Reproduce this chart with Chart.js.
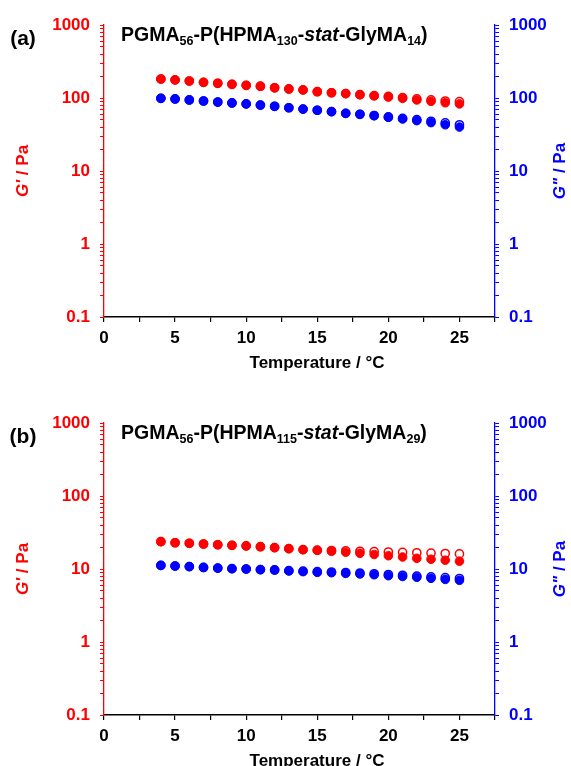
<!DOCTYPE html>
<html>
<head>
<meta charset="utf-8">
<script src="https://cdn.jsdelivr.net/npm/chart.js@4.4.0/dist/chart.umd.min.js"></script>
<style>
    body { margin: 0; background: #fff; width: 571px; height: 766px; overflow: hidden; position: relative; font-family: "Liberation Sans", Arial, sans-serif; }
    canvas { position: absolute; left: 0; }
    .txt { position: absolute; font-weight: bold; white-space: nowrap; transform: translate(-50%, -50%); line-height: 1; }
    .rot { transform: translate(-50%, -50%) rotate(-90deg); }
    .formula { position: absolute; font-weight: bold; font-size: 19.5px; white-space: nowrap; transform: translateY(-50%); line-height: 1; color: #000; }
    .formula sub { font-size: 12.5px; vertical-align: -4px; line-height: 0; }
</style>
</head>
<body>
<canvas id="chartA" width="571" height="383" style="top:0"></canvas>
<canvas id="chartB" width="571" height="383" style="top:383px"></canvas>

<div class="txt" style="left:23px; top:37px; font-size:21px;">(a)</div>
<div class="formula" style="left:121px; top:35px;">PGMA<sub>56</sub>-P(HPMA<sub>130</sub>-<i>stat</i>-GlyMA<sub>14</sub>)</div>
<div class="txt rot" style="left:22px; top:171px; font-size:17px; color:#ff0000;"><i>G'</i> / Pa</div>
<div class="txt rot" style="left:559px; top:171px; font-size:17px; color:#0000ff;"><i>G"</i> / Pa</div>
<div class="txt" style="left:317px; top:362px; font-size:17px;">Temperature / °C</div>

<div class="txt" style="left:23px; top:435px; font-size:21px;">(b)</div>
<div class="formula" style="left:121px; top:433px;">PGMA<sub>56</sub>-P(HPMA<sub>115</sub>-<i>stat</i>-GlyMA<sub>29</sub>)</div>
<div class="txt rot" style="left:22px; top:569px; font-size:17px; color:#ff0000;"><i>G'</i> / Pa</div>
<div class="txt rot" style="left:559px; top:569px; font-size:17px; color:#0000ff;"><i>G"</i> / Pa</div>
<div class="txt" style="left:317px; top:760px; font-size:17px;">Temperature / °C</div>

<script>
// temperature steps, °C
var temperature = [4, 5, 6, 7, 8, 9, 10, 11, 12, 13, 14, 15, 16, 17, 18, 19, 20, 21, 22, 23, 24, 25];

// panel (a) PGMA56-P(HPMA130-stat-GlyMA14)
var gPrimeA = [182, 177, 171, 164, 159, 154, 149, 145, 138, 133, 129, 122, 118, 115, 111, 107, 103, 99, 94, 90, 86, 83];
var gPrimeOpenA = [182, 177, 171, 164, 159, 154, 149, 145, 138, 133, 129, 122, 118, 115, 111, 108, 105, 101, 97, 94, 91, 89];
var gDoubleA = [99, 97, 94, 91, 88, 85.5, 83, 80, 77, 73.5, 70.5, 68, 65, 61.7, 59.8, 57.3, 54.5, 51.6, 49, 46, 43, 40];
var gDoubleOpenA = [99, 97, 94, 91, 88, 85.5, 83, 80, 77, 73.5, 70.5, 68, 65, 61.7, 59.8, 57.5, 55, 52.5, 50.5, 48, 45.5, 43];

// panel (b) PGMA56-P(HPMA115-stat-GlyMA29)
var gPrimeB = [23.7, 22.9, 22.5, 22.0, 21.5, 21.1, 20.7, 20.2, 19.6, 19.0, 18.4, 18.0, 17.5, 17.0, 16.4, 15.8, 15.2, 14.6, 14.0, 13.6, 13.2, 12.8];
var gPrimeOpenB = [23.7, 22.9, 22.5, 22.0, 21.5, 21.1, 20.7, 20.2, 19.6, 19.0, 18.4, 18.1, 17.9, 17.7, 17.5, 17.3, 17.1, 16.9, 16.7, 16.5, 16.3, 16.1];
var gDoubleB = [11.2, 11.0, 10.8, 10.5, 10.3, 10.1, 10.0, 9.8, 9.7, 9.4, 9.2, 9.0, 8.9, 8.7, 8.55, 8.35, 8.1, 7.9, 7.7, 7.45, 7.2, 7.0];
var gDoubleOpenB = [11.2, 11.0, 10.8, 10.5, 10.3, 10.1, 10.0, 9.8, 9.7, 9.5, 9.35, 9.2, 9.1, 8.95, 8.8, 8.6, 8.4, 8.2, 8.0, 7.8, 7.6, 7.4];

// ticks
var xTickValues = [0, 2.5, 5, 7.5, 10, 12.5, 15, 17.5, 20, 22.5, 25, 27.5];
var xTickLabels = [0, 5, 10, 15, 20, 25];
var yTickValues = [0.1, 0.2, 0.3, 0.4, 0.5, 0.6, 0.7, 0.8, 0.9,
    1, 2, 3, 4, 5, 6, 7, 8, 9,
    10, 20, 30, 40, 50, 60, 70, 80, 90,
    100, 200, 300, 400, 500, 600, 700, 800, 900, 1000];
var yTickLabels = [0.1, 1, 10, 100, 1000];

var RED = '#ff0000';
var BLUE = '#0000ff';

Chart.defaults.font.family = '"Liberation Sans", Arial, sans-serif';

function points(values) {
    return temperature.map(function (t, i) { return { x: t, y: values[i] }; });
}

function filledSet(values, color, axis) {
    return {
        data: points(values), yAxisID: axis, showLine: false,
        pointRadius: 4.3, pointBorderWidth: 1,
        pointBackgroundColor: color, pointBorderColor: color
    };
}

function openSet(values, color, axis) {
    return {
        data: points(values), yAxisID: axis, showLine: false,
        pointRadius: 4.1, pointBorderWidth: 1.5,
        pointBackgroundColor: 'rgba(255,255,255,0)', pointBorderColor: color
    };
}

function yAxis(position, color, width) {
    return {
        type: 'logarithmic', position: position, min: 0.1, max: 1000,
        afterBuildTicks: function (scale) {
            scale.ticks = yTickValues.map(function (v) { return { value: v }; });
        },
        afterFit: function (scale) { scale.width = width; },
        ticks: {
            autoSkip: false, padding: 10, color: color,
            font: { size: 17, weight: 'bold' },
            callback: function (v) { return yTickLabels.indexOf(v) >= 0 ? String(v) : ''; }
        },
        grid: { drawOnChartArea: false, drawTicks: true, tickLength: 4, color: color, lineWidth: 1 },
        border: { color: color, width: 1.3 }
    };
}

function makeChart(id, top, bottom, sets) {
    var height = 383;
    return new Chart(document.getElementById(id), {
        type: 'scatter',
        data: { datasets: sets },
        options: {
            responsive: false,
            animation: false,
            devicePixelRatio: 1,
            layout: { padding: { top: top, left: 0, right: 0, bottom: 0 } },
            plugins: { legend: { display: false }, tooltip: { enabled: false } },
            scales: {
                x: {
                    type: 'linear', min: 0, max: 27.5,
                    afterBuildTicks: function (scale) {
                        scale.ticks = xTickValues.map(function (v) { return { value: v }; });
                    },
                    afterFit: function (scale) { scale.height = height - bottom; },
                    ticks: {
                        autoSkip: false, maxRotation: 0, padding: 6, color: '#000',
                        font: { size: 17, weight: 'bold' },
                        callback: function (v) { return xTickLabels.indexOf(v) >= 0 ? String(v) : ''; }
                    },
                    grid: { drawOnChartArea: false, drawTicks: true, tickLength: 5, color: '#000', lineWidth: 1.2 },
                    border: { color: '#000', width: 1.6 }
                },
                y: yAxis('left', RED, 104),
                y2: yAxis('right', BLUE, 76)
            }
        }
    });
}

makeChart('chartA', 25, 317, [
    openSet(gPrimeOpenA, RED, 'y'),
    openSet(gDoubleOpenA, BLUE, 'y2'),
    filledSet(gPrimeA, RED, 'y'),
    filledSet(gDoubleA, BLUE, 'y2')
]);

makeChart('chartB', 40, 332, [
    openSet(gPrimeOpenB, RED, 'y'),
    openSet(gDoubleOpenB, BLUE, 'y2'),
    filledSet(gPrimeB, RED, 'y'),
    filledSet(gDoubleB, BLUE, 'y2')
]);
</script>
</body>
</html>
